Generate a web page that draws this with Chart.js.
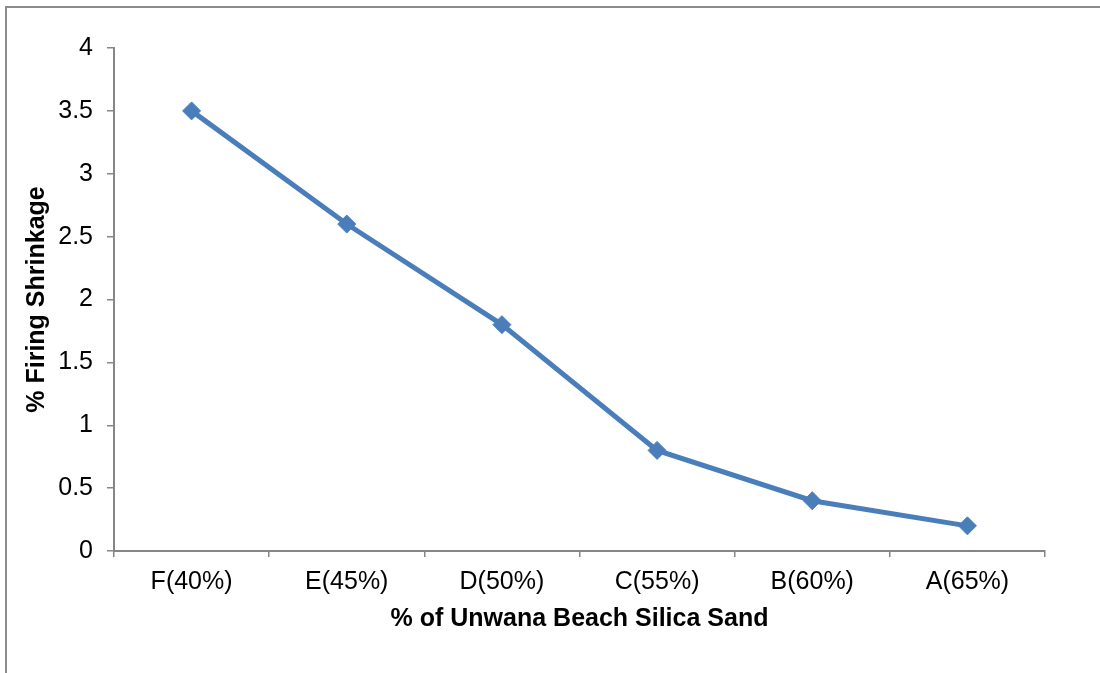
<!DOCTYPE html>
<html>
<head>
<meta charset="utf-8">
<script src="https://cdn.jsdelivr.net/npm/chart.js@4.4.1/dist/chart.umd.min.js"></script>
<style>
  body { margin: 0; background: #fff; }
  #wrap { position: relative; width: 1100px; height: 673px; }
  #frame { position: absolute; left: 5px; top: 6px; right: -10px; bottom: -10px;
           border-top: 2px solid #8c8c8c; border-left: 2px solid #8c8c8c; pointer-events: none; }
  canvas { position: absolute; left: 0; top: 0; }
</style>
</head>
<body>
<div id="wrap">
  <canvas id="myChart" width="1100" height="673"></canvas>
  <div id="frame"></div>
</div>
<script>
// datos
const categorias = ['F(40%)', 'E(45%)', 'D(50%)', 'C(55%)', 'B(60%)', 'A(65%)'];
const contraccion = [3.5, 2.6, 1.8, 0.8, 0.4, 0.2];
const yMin = 0, yMax = 4, yPaso = 0.5;

const fuente = '"Liberation Sans", Arial, sans-serif';
const gris = '#868686';

const ctx = document.getElementById('myChart');
new Chart(ctx, {
  type: 'line',
  data: {
    labels: categorias,
    datasets: [{
      label: '% Firing Shrinkage',
      data: contraccion,
      borderColor: '#4a7ebb',
      backgroundColor: '#4a7ebb',
      borderWidth: 5,
      pointStyle: 'rectRot',
      pointRadius: 9,
      pointBorderWidth: 1,
      tension: 0
    }]
  },
  options: {
    responsive: false,
    animation: false,
    layout: { padding: { top: 48, right: 55, left: 0, bottom: 0 } },
    plugins: { legend: { display: false }, tooltip: { enabled: false } },
    scales: {
      x: {
        offset: true,
        grid: { offset: true, drawOnChartArea: false, drawTicks: true, tickLength: 6, color: gris, lineWidth: 1.5 },
        border: { color: gris, width: 2 },
        ticks: { color: '#000', padding: 10, font: { family: fuente, size: 25 }, maxRotation: 0 },
        title: { display: true, text: '% of Unwana Beach Silica Sand', color: '#000',
                 font: { family: fuente, size: 25, weight: 'bold' }, padding: { top: 0, bottom: 39 } },
        afterFit: function (scale) { scale.height = 122; }
      },
      y: {
        min: yMin,
        max: yMax,
        grid: { drawOnChartArea: false, drawTicks: true, tickLength: 7, color: gris, lineWidth: 1.5 },
        border: { color: gris, width: 2 },
        ticks: {
          stepSize: yPaso, color: '#000', padding: 14, font: { family: fuente, size: 25 },
          callback: function (v) { return String(Number(v)); }
        },
        title: { display: true, text: '% Firing Shrinkage', color: '#000',
                 font: { family: fuente, size: 25, weight: 'bold' }, padding: { top: 22, bottom: 0 } },
        afterFit: function (scale) { scale.width = 114; }
      }
    }
  }
});
</script>
</body>
</html>
